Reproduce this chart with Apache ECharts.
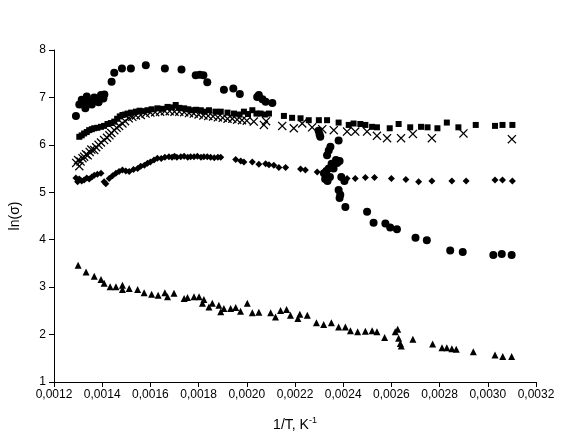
<!DOCTYPE html>
<html><head><meta charset="utf-8">
<script src="https://cdn.jsdelivr.net/npm/echarts@6/dist/echarts.min.js"></script>
<style>html,body{margin:0;padding:0;background:#fff}#c{width:562px;height:441px}</style>
</head><body><div id="c"></div>
<script>
var xTickLabels = ['0,0012','0,0014','0,0016','0,0018','0,0020','0,0022','0,0024','0,0026','0,0028','0,0030','0,0032'];
var yTickLabels = ['1','2','3','4','5','6','7','8'];

var circleX = [0.001291,0.001305,0.001315,0.001325,0.001330,0.001336,0.001346,0.001357,0.001367,0.001377,0.001385,0.001395,0.001405,0.001409,
  0.001439,0.00145,0.001482,0.001519,0.001581,0.00166,0.001729,0.001788,0.001805,0.00182,0.001836,0.001905,0.001944,0.001971,0.002043,0.00205,0.002065,0.002078,0.002106,
  0.002298,0.002302,0.002305,0.002381,0.002347,0.00234,0.002333,
  0.00232,0.002325,0.002335,0.002345,0.00236,0.002375,0.002385,0.00237,0.002352,0.00234,0.00233,
  0.002392,0.002405,0.002381,0.002388,0.002385,0.002409,0.002499,0.002526,0.002575,0.002595,0.002623,0.0027,0.002747,0.002844,0.002896,0.003023,0.003058,0.003099];
var circleY = [6.61,6.85,6.95,6.88,6.77,7.02,6.92,6.85,7.00,6.95,6.90,7.05,6.98,7.06,
  7.33,7.52,7.61,7.61,7.68,7.61,7.59,7.47,7.48,7.47,7.32,7.16,7.19,7.07,7.01,7.05,6.96,6.91,6.88,
  6.30,6.22,6.17,6.09,5.96,5.88,5.78,
  5.40,5.28,5.24,5.32,5.50,5.62,5.66,5.68,5.60,5.50,5.45,
  5.32,5.24,5.05,4.95,4.88,4.69,4.59,4.36,4.34,4.26,4.22,4.04,3.99,3.77,3.74,3.68,3.70,3.68];

var squareX = [0.001305,0.001315,0.001325,0.001336,0.001346,0.001357,0.001367,0.001380,0.001395,0.001408,0.001422,0.001436,0.00145,0.001462,0.001473,0.001484,0.001495,0.001505,0.00152,0.00154,0.001555,0.00157,0.001588,0.001605,0.001629,0.00165,0.001671,0.00169,0.001705,0.00172,0.00174,0.001757,0.001774,0.00179,0.001809,0.001825,0.001843,0.00187,0.001892,0.00192,0.001947,0.00197,0.001988,0.002005,0.002023,0.00204,0.002057,0.002075,0.002092,0.002154,0.002188,0.002223,0.002257,0.002299,0.002333,0.002381,0.002423,0.002443,0.002471,0.002492,0.00252,0.00254,0.002593,0.00263,0.002678,0.002723,0.00275,0.002791,0.00283,0.002878,0.00295,0.00303,0.003061,0.003102];
var squareY = [6.17,6.20,6.24,6.27,6.31,6.33,6.35,6.36,6.38,6.40,6.44,6.46,6.49,6.55,6.60,6.63,6.64,6.66,6.68,6.70,6.72,6.71,6.73,6.75,6.77,6.76,6.80,6.79,6.84,6.78,6.77,6.75,6.73,6.74,6.73,6.70,6.73,6.70,6.70,6.68,6.66,6.64,6.70,6.65,6.73,6.66,6.66,6.64,6.66,6.61,6.57,6.56,6.52,6.52,6.52,6.47,6.42,6.45,6.44,6.42,6.38,6.37,6.35,6.44,6.37,6.38,6.37,6.35,6.47,6.37,6.42,6.40,6.42,6.42];

var crossX = [0.001292,0.0013,0.001305,0.00131,0.001318,0.001325,0.001333,0.00134,0.001348,0.001355,0.001367,0.001375,0.001385,0.001395,0.001408,0.00142,0.00143,0.001438,0.00145,0.00146,0.00147,0.001484,0.001495,0.00151,0.001525,0.00154,0.00156,0.00158,0.0016,0.00162,0.00164,0.00166,0.00168,0.0017,0.00172,0.00174,0.00176,0.00178,0.0018,0.00182,0.00184,0.00186,0.00188,0.0019,0.00192,0.00194,0.00196,0.00198,0.002,0.002029,0.002071,0.00208,0.002147,0.002195,0.00223,0.002271,0.002313,0.002361,0.002416,0.00245,0.002499,0.00254,0.002582,0.00264,0.002689,0.002768,0.002899,0.0031];
var crossY = [5.62,5.68,5.55,5.65,5.72,5.75,5.80,5.78,5.85,5.90,5.89,5.95,6.00,6.05,6.10,6.15,6.20,6.25,6.31,6.36,6.40,6.45,6.50,6.56,6.59,6.62,6.63,6.66,6.68,6.69,6.70,6.71,6.71,6.70,6.70,6.69,6.67,6.66,6.64,6.62,6.61,6.60,6.58,6.57,6.55,6.55,6.53,6.52,6.51,6.49,6.42,6.50,6.40,6.35,6.45,6.37,6.33,6.31,6.28,6.28,6.28,6.19,6.14,6.14,6.23,6.14,6.24,6.12];

var diamondX = [0.001291,0.001298,0.001305,0.001315,0.001325,0.001336,0.001346,0.001357,0.001367,0.00138,0.001395,0.001408,0.001415,0.001429,0.001443,0.001457,0.00147,0.001484,0.001498,0.001512,0.00153,0.001547,0.00156,0.001575,0.001588,0.0016,0.001615,0.001629,0.001645,0.00166,0.001677,0.00169,0.0017,0.00171,0.001726,0.00174,0.001755,0.001767,0.001781,0.001795,0.00181,0.001822,0.001836,0.00185,0.001865,0.00188,0.001892,0.001954,0.001975,0.001988,0.002023,0.00205,0.002078,0.002092,0.002112,0.002133,0.002161,0.002223,0.002243,0.002292,0.002416,0.00245,0.002492,0.00253,0.0026,0.00266,0.002713,0.002768,0.002851,0.00291,0.00303,0.003061,0.003102];
var diamondY = [5.30,5.22,5.28,5.24,5.26,5.30,5.28,5.32,5.36,5.38,5.40,5.22,5.18,5.29,5.35,5.40,5.44,5.47,5.45,5.44,5.48,5.50,5.55,5.57,5.61,5.64,5.68,5.72,5.71,5.74,5.75,5.74,5.76,5.74,5.75,5.76,5.74,5.75,5.75,5.76,5.74,5.75,5.75,5.74,5.73,5.74,5.74,5.69,5.66,5.64,5.64,5.59,5.60,5.58,5.57,5.52,5.52,5.49,5.47,5.43,5.29,5.29,5.31,5.31,5.29,5.27,5.22,5.24,5.24,5.24,5.26,5.26,5.24];

var triangleX = [0.0013,0.001333,0.001367,0.001395,0.001408,0.001433,0.001457,0.001484,0.001484,0.001512,0.001547,0.001574,0.001605,0.001632,0.00166,0.001671,0.001698,0.00174,0.001754,0.001781,0.001802,0.001816,0.001822,0.001843,0.001857,0.001884,0.001892,0.001905,0.001933,0.001954,0.001974,0.002002,0.002023,0.00205,0.002099,0.002119,0.00214,0.002165,0.002181,0.002212,0.00222,0.002251,0.002289,0.002319,0.002351,0.002381,0.002409,0.00243,0.00246,0.002492,0.00252,0.00254,0.002572,0.002616,0.002626,0.00263,0.002637,0.002641,0.002689,0.002771,0.00281,0.00283,0.002851,0.002869,0.00294,0.00303,0.003062,0.003099];
var triangleY = [3.46,3.32,3.23,3.16,3.08,3.01,3.01,3.04,2.95,2.97,2.95,2.88,2.85,2.83,2.88,2.80,2.87,2.76,2.78,2.80,2.80,2.66,2.74,2.58,2.66,2.62,2.48,2.55,2.55,2.57,2.49,2.66,2.46,2.47,2.46,2.37,2.51,2.53,2.41,2.34,2.43,2.41,2.25,2.21,2.25,2.16,2.16,2.08,2.06,2.07,2.08,2.06,1.94,2.06,2.11,1.92,1.81,1.76,1.90,1.80,1.72,1.72,1.70,1.69,1.64,1.57,1.54,1.54];

function pairs(xs, ys){ return xs.map(function(x,i){ return [x, ys[i]]; }); }
var crossPath = 'path://M0,1 L1,0 L5,4 L9,0 L10,1 L6,5 L10,9 L9,10 L5,6 L1,10 L0,9 L4,5 Z';

var chart = echarts.init(document.getElementById('c'));
var font = 'Liberation Sans, Arial, sans-serif';
function sc(name, xs, ys, symbol, size){
  return {type:'scatter', name:name, data:pairs(xs,ys), symbol:symbol, symbolSize:size,
    itemStyle:{color:'#000', opacity:1}, emphasis:{disabled:true}, animation:false};
}
chart.setOption({
  animation:false,
  backgroundColor:'#fff',
  grid:{left:53, right:26, top:50, bottom:59},
  xAxis:{type:'value', min:0.0012, max:0.0032, interval:0.0002,
    name:'1/T, K{sup|-1}', nameLocation:'middle', nameGap:34,
    nameTextStyle:{color:'#000', fontSize:14, fontFamily:font, lineHeight:18,
      rich:{sup:{fontSize:9, fontFamily:font, color:'#000', verticalAlign:'top', lineHeight:18, padding:[0,0,8,0]}}},
    axisLine:{lineStyle:{color:'#000', width:1}},
    axisTick:{show:true, length:5, lineStyle:{color:'#000'}},
    axisLabel:{color:'#000', fontSize:12, fontFamily:font, margin:7,
      formatter:function(v){ return xTickLabels[Math.round((v-0.0012)/0.0002)]; }},
    splitLine:{show:false}},
  yAxis:{type:'value', min:1, max:8, interval:1,
    name:'ln(\u03c3)', nameLocation:'middle', nameGap:32, nameRotate:90,
    nameTextStyle:{color:'#000', fontSize:14, fontFamily:font},
    axisLine:{show:true, lineStyle:{color:'#000', width:1}},
    axisTick:{show:true, length:5, lineStyle:{color:'#000'}},
    axisLabel:{color:'#000', fontSize:12, fontFamily:font, margin:8,
      formatter:function(v){ return yTickLabels[Math.round(v-1)]; }},
    splitLine:{show:false}},
  series:[
    sc('circles', circleX, circleY, 'circle', 8),
    sc('squares', squareX, squareY, 'rect', 6),
    sc('crosses', crossX, crossY, crossPath, 9),
    sc('diamonds', diamondX, diamondY, 'diamond', 7),
    sc('triangles', triangleX, triangleY, 'triangle', 7)
  ]
});
</script></body></html>
